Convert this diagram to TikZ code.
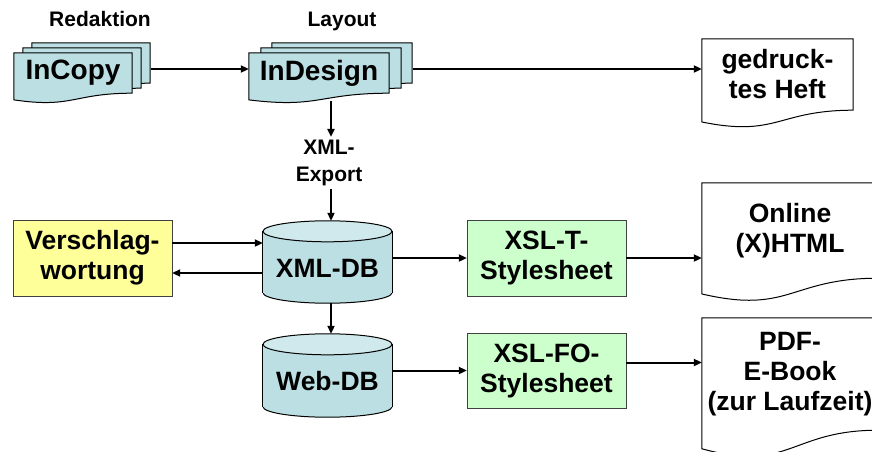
\documentclass[tikz,border=0pt]{standalone}
\usepackage{fontspec}
\setmainfont{Liberation Sans}
\usetikzlibrary{calc,arrows.meta,backgrounds}

\definecolor{cor_cyan}{HTML}{BCDFE3}
\definecolor{cor_cyantop}{HTML}{D0E9EC}
\definecolor{cor_yellow}{HTML}{FFFF99}
\definecolor{cor_green}{HTML}{CCFFCC}

\begin{document}
\begin{tikzpicture}[x=1pt,y=-1pt]
        \tikzset{
            blatt/.style n args={2}{
                minimum width=#1,
                minimum height=#2,
                inner sep=0pt,
                align=center,
                font=\fontsize{26.5}{30}\selectfont\bfseries
            },
            kasten/.style={
                draw=black!75,
                fill=#1,
                minimum width=159pt,
                minimum height=76pt,
                inner sep=0pt,
                align=center,
                font=\fontsize{26.5}{30}\selectfont\bfseries
            },
            dbank/.style={
                minimum width=129pt,
                minimum height=82pt,
                inner sep=0pt,
                text height=30pt,
                text depth=0pt,
                font=\fontsize{26.5}{30}\selectfont\bfseries
            },
            titel/.style={
                align=center,
                font=\fontsize{21}{27}\selectfont\bfseries
            },
            pfeil/.style={
                -{Triangle[length=8pt,width=7pt]},
                line width=2pt
            }
        }
        \useasboundingbox (0,0) rectangle (872,452);
        \clip (0,0) rectangle (872,452);

        \node[titel, anchor=base] (redaktion) at (100,27) {Redaktion};
        \node[titel, anchor=base] (layout) at (342,27) {Layout};

        \node[blatt={118pt}{40pt}] (incopyC) at (91,63) {};
        \node[blatt={118pt}{40pt}] (incopyB) at (82,68) {};
        \node[blatt={118pt}{40pt}, font=\fontsize{28}{32}\selectfont\bfseries] (incopy) at (73,73) {InCopy};

        \node[blatt={140pt}{40pt}] (indesignC) at (342,63) {};
        \node[blatt={140pt}{40pt}] (indesignB) at (331,68) {};
        \node[blatt={140pt}{40pt}, font=\fontsize{28}{32}\selectfont\bfseries] (indesign) at (319,73) {InDesign};

        \node[blatt={151pt}{71pt}] (heft) at (777.5,74.5) {gedruck-\\tes Heft};
        \node[blatt={176pt}{95pt}] (online) at (790,230.5) {Online\\(X)HTML};
        \node[blatt={176pt}{112pt}] (pdf) at (790,374) {PDF-\\E-Book\\(zur Laufzeit)};

        \node[titel, inner sep=3pt] (export) at (329,163) {XML-\\Export};

        \node[kasten=cor_yellow] (verschlag) at (92.5,258) {Verschlag-\\wortung};
        \node[kasten=cor_green] (xslt) at (546.5,258) {XSL-T-\\Stylesheet};
        \node[kasten=cor_green, minimum height=75pt] (xslfo) at (546.5,370.5) {XSL-FO-\\Stylesheet};

        \node[dbank] (xmldb) at (327.5,262) {XML-DB};
        \node[dbank, minimum height=83pt] (webdb) at (327.5,375.5) {Web-DB};

        \begin{scope}[on background layer]
            \foreach \d/\f in {incopyC/cor_cyan,incopyB/cor_cyan,incopy/cor_cyan,
                               indesignC/cor_cyan,indesignB/cor_cyan,indesign/cor_cyan,
                               heft/white,online/white,pdf/white} { %DOKUMENTE
                \draw[black, line width=1pt, fill=\f] let \p1 = ($(\d.north)-(\d.south)$) in
                    (\d.north west) -- (\d.north east) -- (\d.south east)
                    .. controls (\d.south) and ($(\d.south)+(0pt,{-0.381*\y1})$) ..
                    ($(\d.south west)+(0pt,{-0.165*\y1})$) -- cycle;
            }
            \foreach \c in {xmldb,webdb} { %DATENBANKEN
                \draw[black, line width=1pt, fill=cor_cyan] ($(\c.south)+(0,-10.5)$) ellipse [x radius=64.5, y radius=10.5];
                \fill[cor_cyan] ($(\c.north west)+(0,10.5)$) rectangle ($(\c.south east)+(0,-10.5)$);
                \draw[black, line width=1pt] ($(\c.north west)+(0,10.5)$) -- ($(\c.south west)+(0,-10.5)$);
                \draw[black, line width=1pt] ($(\c.north east)+(0,10.5)$) -- ($(\c.south east)+(0,-10.5)$);
                \draw[black, line width=1pt, fill=cor_cyantop] ($(\c.north)+(0,10.5)$) ellipse [x radius=64.5, y radius=10.5];
            }
        \end{scope}

        \coordinate (dsg-down) at ($(indesign.south)+(12,8)$);

        \draw[pfeil] ($(incopy.east -| incopyC.east)+(1,-4)$) -- ($(indesign.west)+(0,-4)$);
        \draw[pfeil] ($(indesign.east -| indesignC.east)+(1,-4)$) -- ($(indesign.east -| heft.west)+(0,-4)$);
        \draw[pfeil] (dsg-down) -- (dsg-down |- export.north);
        \draw[pfeil] (export.south -| dsg-down) -- (xmldb.north -| dsg-down);
        \draw[pfeil] (xmldb.south -| dsg-down) -- (webdb.north -| dsg-down);
        \draw[pfeil] ($(verschlag.east)+(0,-15)$) -- ($(verschlag.east -| xmldb.west)+(0,-15)$);
        \draw[pfeil] ($(verschlag.east -| xmldb.west)+(0,15)$) -- ($(verschlag.east)+(0,15)$);
        \draw[pfeil] (xmldb.east |- xslt.west) -- (xslt.west);
        \draw[pfeil] (xslt.east) -- (xslt.east -| online.west);
        \draw[pfeil] (webdb.east |- xslfo.west) -- (xslfo.west);
        \draw[pfeil] ($(xslfo.east)+(0,-8)$) -- ($(xslfo.east -| pdf.west)+(0,-8)$);

\end{tikzpicture}
\end{document}
